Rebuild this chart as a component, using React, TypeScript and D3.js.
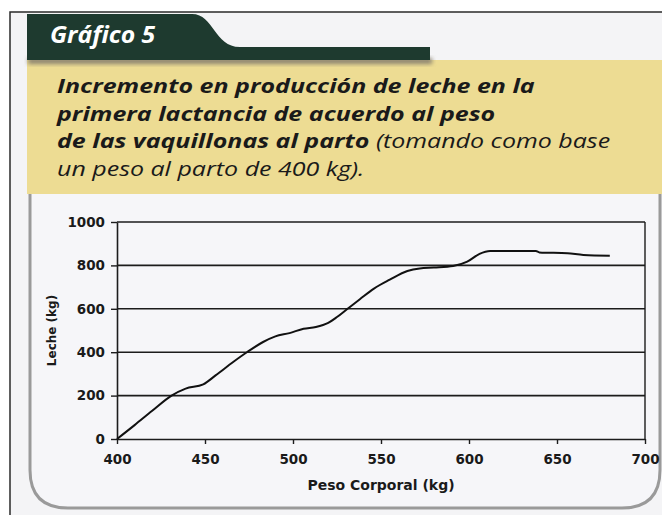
import React, { useRef, useEffect } from "react";
import * as d3 from "d3";

// Peso corporal (kg) y leche (kg)
const peso = [400, 410, 420, 431, 439, 449, 456, 466, 474, 483, 490, 498, 506, 513, 520, 525, 531, 538, 546, 555, 565, 572, 580, 591, 599, 606, 612, 638, 640, 656, 665, 680];
const leche = [0, 64, 130, 200, 232, 252, 293, 355, 401, 447, 473, 488, 508, 516, 535, 562, 600, 644, 693, 734, 774, 786, 790, 797, 817, 853, 866, 866, 860, 856, 848, 845];

const xTicks = [400, 450, 500, 550, 600, 650, 700];
const yTicks = [0, 200, 400, 600, 800, 1000];

const tituloLineas = [
  [{ t: "Incremento en producción de leche en la", b: true }],
  [{ t: "primera lactancia de acuerdo al peso", b: true }],
  [
    { t: "de las vaquillonas al parto", b: true },
    { t: " (tomando como base", b: false },
  ],
  [{ t: "un peso al parto de 400 kg).", b: false }],
];

const W = 662;
const H = 515;

const App: React.FC = () => {
  const svgRef = useRef<SVGSVGElement | null>(null);

  useEffect(() => {
    if (!svgRef.current) return;
    const svg = d3.select(svgRef.current);
    svg.selectAll("*").remove();

    // fondo
    svg.append("rect").attr("width", W).attr("height", H).attr("fill", "#ffffff");
    svg.append("rect").attr("x", 10).attr("y", 12).attr("width", W - 10).attr("height", H - 12).attr("fill", "#f4f4f6");

    // marco exterior
    svg.append("path")
      .attr("d", `M10,${H} V12 H${W}`)
      .attr("fill", "none")
      .attr("stroke", "#2a2a2a")
      .attr("stroke-width", 1.5);

    // banda amarilla
    svg.append("rect")
      .attr("x", 27).attr("y", 60)
      .attr("width", W - 27).attr("height", 134)
      .attr("fill", "#eddc93");

    // sombra bajo la pestaña
    const defs = svg.append("defs");
    const blur = defs.append("filter").attr("id", "sombra").attr("x", "-5%").attr("y", "-50%").attr("width", "110%").attr("height", "200%");
    blur.append("feGaussianBlur").attr("stdDeviation", 2);
    svg.append("rect")
      .attr("x", 28).attr("y", 58)
      .attr("width", 404).attr("height", 6)
      .attr("fill", "#8a8270")
      .attr("filter", "url(#sombra)");

    // pestaña oscura
    svg.append("path")
      .attr("d", "M27,14 H192 C214,14 214,47 240,47 H430 V60 H27 Z")
      .attr("fill", "#1e3a2f");

    svg.append("text")
      .attr("transform", "translate(50,43) scale(1.1,1)")
      .attr("fill", "#ffffff")
      .attr("font-family", "'Open Sans', sans-serif")
      .attr("font-weight", "bold")
      .attr("font-style", "italic")
      .attr("font-size", 22.5)
      .text("Gráfico 5");

    // título (la tipografía original es más ancha)
    const baselines = [93, 121, 148, 176];
    const titulo = svg.append("g").attr("transform", "translate(57,0) scale(1.25,1)");
    tituloLineas.forEach((linea, i) => {
      const t = titulo.append("text")
        .attr("x", 0).attr("y", baselines[i])
        .attr("fill", "#1a1a1a")
        .attr("font-family", "'Open Sans', sans-serif")
        .attr("font-style", "italic")
        .attr("font-size", 20);
      linea.forEach((seg) => {
        t.append("tspan")
          .attr("font-weight", seg.b ? "bold" : "normal")
          .text(seg.t);
      });
    });

    // marco del gráfico
    svg.append("path")
      .attr("d", `M30,194 V470 Q30,508 68,508 H622 Q660,508 660,470 V194`)
      .attr("fill", "#f6f6f9")
      .attr("stroke", "#9a9a9a")
      .attr("stroke-width", 3);

    // área del gráfico
    const left = 117, right = 645, top = 222, bottom = 439;
    const x = d3.scaleLinear().domain([400, 700]).range([left, right]);
    const y = d3.scaleLinear().domain([0, 1000]).range([bottom, top]);

    const g = svg.append("g");

    // líneas de cuadrícula
    g.selectAll(".grid")
      .data(yTicks.filter((d) => d > 0))
      .enter()
      .append("line")
      .attr("x1", left).attr("x2", right)
      .attr("y1", (d) => y(d)).attr("y2", (d) => y(d))
      .attr("stroke", "#1c1c1c")
      .attr("stroke-width", 1.6);

    g.append("line")
      .attr("x1", right).attr("x2", right)
      .attr("y1", top).attr("y2", bottom)
      .attr("stroke", "#1c1c1c")
      .attr("stroke-width", 1.4);

    const axisFont = "'DejaVu Sans', Verdana, sans-serif";

    const yAxis = g.append("g")
      .attr("transform", `translate(${left},0)`)
      .call(d3.axisLeft(y).tickValues(yTicks).tickFormat(d3.format("d")).tickSize(6).tickSizeOuter(0).tickPadding(6));
    const xAxis = g.append("g")
      .attr("transform", `translate(0,${bottom})`)
      .call(d3.axisBottom(x).tickValues(xTicks).tickFormat(d3.format("d")).tickSize(5).tickSizeOuter(0).tickPadding(10));

    [yAxis, xAxis].forEach((a) => {
      a.select(".domain").attr("stroke", "#1c1c1c").attr("stroke-width", 1.6);
      a.selectAll(".tick line").attr("stroke", "#1c1c1c").attr("stroke-width", 1.4);
      a.selectAll(".tick text")
        .attr("fill", "#1a1a1a")
        .attr("font-family", axisFont)
        .attr("font-weight", "bold")
        .attr("font-size", 13.5);
    });

    // títulos de ejes
    g.append("text")
      .attr("x", (left + right) / 2).attr("y", 490)
      .attr("text-anchor", "middle")
      .attr("fill", "#1a1a1a")
      .attr("font-family", axisFont)
      .attr("font-weight", "bold")
      .attr("font-size", 14)
      .text("Peso Corporal (kg)");

    g.append("text")
      .attr("transform", `translate(56,${(top + bottom) / 2}) rotate(-90)`)
      .attr("text-anchor", "middle")
      .attr("fill", "#1a1a1a")
      .attr("font-family", axisFont)
      .attr("font-weight", "bold")
      .attr("font-size", 12)
      .text("Leche (kg)");

    // curva
    const linea = d3.line<number>()
      .x((_, i) => x(peso[i]))
      .y((d) => y(d))
      .curve(d3.curveMonotoneX);

    g.append("path")
      .datum(leche)
      .attr("fill", "none")
      .attr("stroke", "#111111")
      .attr("stroke-width", 2)
      .attr("d", linea);
  }, []);

  return (
    <svg
      ref={svgRef}
      width={W}
      height={H}
      style={{ position: "absolute", left: 0, top: 0, display: "block" }}
    ></svg>
  );
};

export default App;
